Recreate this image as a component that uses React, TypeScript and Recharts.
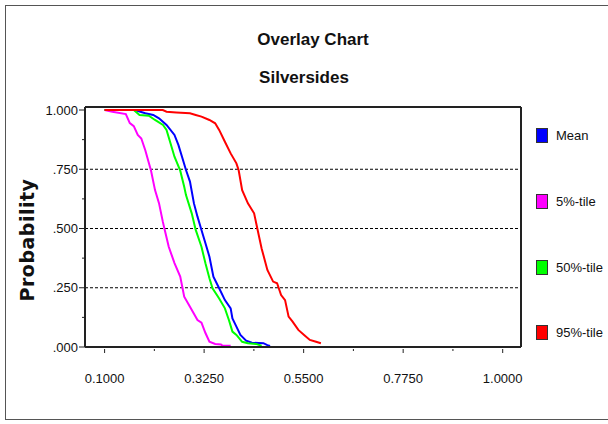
import React from "react";
import { LineChart, Line, XAxis, YAxis, ReferenceLine } from "recharts";

// values
const meanX = [0.1, 0.168, 0.192, 0.21, 0.223, 0.24, 0.258, 0.267, 0.275, 0.284, 0.293, 0.302, 0.31, 0.319, 0.328, 0.337, 0.346, 0.359, 0.372, 0.385, 0.389, 0.398, 0.407, 0.42, 0.433, 0.459, 0.468, 0.474];
const meanP = [1.0, 1.0, 0.986, 0.979, 0.965, 0.937, 0.895, 0.852, 0.803, 0.747, 0.698, 0.606, 0.55, 0.494, 0.438, 0.381, 0.297, 0.248, 0.198, 0.163, 0.121, 0.086, 0.051, 0.027, 0.018, 0.016, 0.008, 0.004];

const p5X = [0.1, 0.1176, 0.148, 0.157, 0.166, 0.175, 0.183, 0.192, 0.205, 0.214, 0.223, 0.2316, 0.236, 0.245, 0.258, 0.271, 0.28, 0.293, 0.31, 0.319, 0.328, 0.337, 0.35, 0.363, 0.367, 0.385];
const p5P = [1.0, 0.993, 0.983, 0.945, 0.932, 0.895, 0.88, 0.83, 0.744, 0.662, 0.607, 0.529, 0.494, 0.423, 0.354, 0.297, 0.212, 0.17, 0.114, 0.103, 0.059, 0.022, 0.013, 0.011, 0.005, 0.005];

const p50X = [0.1, 0.166, 0.179, 0.2, 0.214, 0.232, 0.24, 0.249, 0.258, 0.271, 0.28, 0.284, 0.297, 0.306, 0.319, 0.328, 0.337, 0.344, 0.359, 0.372, 0.381, 0.389, 0.398, 0.411, 0.424, 0.442, 0.455];
const p50P = [1.0, 1.0, 0.979, 0.976, 0.958, 0.937, 0.916, 0.86, 0.803, 0.744, 0.676, 0.641, 0.564, 0.494, 0.423, 0.353, 0.29, 0.248, 0.205, 0.163, 0.114, 0.065, 0.051, 0.022, 0.016, 0.013, 0.005];

const p95X = [0.1, 0.2316, 0.24, 0.262, 0.293, 0.306, 0.319, 0.337, 0.35, 0.359, 0.372, 0.385, 0.398, 0.403, 0.411, 0.424, 0.438, 0.446, 0.455, 0.468, 0.481, 0.49, 0.499, 0.508, 0.516, 0.525, 0.538, 0.551, 0.564, 0.578, 0.589];
const p95P = [1.0, 1.0, 0.993, 0.99, 0.986, 0.979, 0.972, 0.958, 0.944, 0.916, 0.866, 0.817, 0.775, 0.747, 0.662, 0.606, 0.564, 0.494, 0.416, 0.325, 0.276, 0.269, 0.219, 0.198, 0.128, 0.107, 0.072, 0.051, 0.03, 0.022, 0.016];

const xTicks = [0.1, 0.2125, 0.325, 0.4375, 0.55, 0.6625, 0.775, 0.8875, 1.0];
const xLabels = ["0.1000", "", "0.3250", "", "0.5500", "", "0.7750", "", "1.0000"];
const yTicks = [0, 0.125, 0.25, 0.375, 0.5, 0.625, 0.75, 0.875, 1.0];
const yLabels = [".000", "", ".250", "", ".500", "", ".750", "", "1.000"];
const gridValues = [0.25, 0.5, 0.75];

const seriesNames = ["Mean", "5%-tile", "50%-tile", "95%-tile"];
const seriesColors = ["#0000ff", "#ff00ff", "#00ff00", "#ff0000"];

const zip = (xs: number[], ps: number[]) => xs.map((x, i) => ({ x, p: ps[i] }));
const series = [zip(meanX, meanP), zip(p5X, p5P), zip(p50X, p50P), zip(p95X, p95P)];

const FONT = "'Liberation Sans', Arial, sans-serif";
const FRAME = "#222";
const Y_MAX = 1.0127;

const XTick = (props: any) => {
  const { x, y, index } = props;
  const major = xLabels[index] !== "";
  return (
    <g>
      <line x1={x} x2={x} y1={y + 2} y2={y + (major ? 6 : 4)} stroke={FRAME} strokeWidth={1} />
      {major && (
        <text x={x} y={y + 36} textAnchor="middle" fontSize={13} fontFamily={FONT} fill="#111">
          {xLabels[index]}
        </text>
      )}
    </g>
  );
};

const YTick = (props: any) => {
  const { x, y, index } = props;
  const major = yLabels[index] !== "";
  return (
    <g>
      <line x1={x - (major ? 6 : 3)} x2={x} y1={y} y2={y} stroke={FRAME} strokeWidth={1} />
      {major && (
        <text x={x - 7} y={y + 4.5} textAnchor="end" fontSize={13} fontFamily={FONT} fill="#111">
          {yLabels[index]}
        </text>
      )}
    </g>
  );
};

const RTick = (props: any) => {
  const { x, y } = props;
  return <line x1={x} x2={x + 3} y1={y} y2={y} stroke={FRAME} strokeWidth={1} />;
};

const legendTops = [135, 201.5, 267, 332];

export default function App() {
  return (
    <div style={{ position: "relative", width: 608, height: 424, background: "#fff", overflow: "hidden" }}>
      <style>{"body{margin:0}"}</style>
      <div style={{ position: "absolute", left: 5, top: 5, width: 620, height: 413, border: "1px solid #555" }} />
      <div style={{ position: "absolute", left: 213, width: 200, top: 30, textAlign: "center", fontFamily: FONT, fontWeight: "bold", fontSize: 17, color: "#111" }}>
        Overlay Chart
      </div>
      <div style={{ position: "absolute", left: 204, width: 200, top: 68, textAlign: "center", fontFamily: FONT, fontWeight: "bold", fontSize: 17, color: "#111" }}>
        Silversides
      </div>
      <div style={{ position: "absolute", left: 0, top: 0 }}>
        <LineChart width={608} height={424} margin={{ top: 107, right: 0, bottom: 0, left: 0 }}>
          <XAxis
            type="number"
            dataKey="x"
            domain={[0.0557, 1.0414]}
            allowDataOverflow
            ticks={xTicks}
            interval={0}
            height={77}
            tickSize={0}
            tickMargin={0}
            tickLine={false}
            tick={<XTick />}
            axisLine={{ stroke: FRAME, strokeWidth: 2 }}
          />
          <YAxis
            type="number"
            domain={[0, Y_MAX]}
            allowDataOverflow
            ticks={yTicks}
            interval={0}
            width={85}
            tickSize={0}
            tickMargin={0}
            tickLine={false}
            tick={<YTick />}
            axisLine={{ stroke: FRAME, strokeWidth: 2 }}
            label={{
              content: () => (
                <text
                  x={27}
                  y={240}
                  transform="rotate(-90 27 240)"
                  textAnchor="middle"
                  dominantBaseline="central"
                  fontFamily="'DejaVu Sans', Verdana, sans-serif"
                  fontWeight="bold"
                  fontSize={19}
                  letterSpacing={0.5}
                  fill="#111"
                >
                  Probability
                </text>
              ),
            }}
          />
          <YAxis
            yAxisId="right"
            orientation="right"
            type="number"
            domain={[0, Y_MAX]}
            ticks={yTicks}
            interval={0}
            width={87}
            tickSize={0}
            tickMargin={0}
            tickLine={false}
            tick={<RTick />}
            axisLine={{ stroke: FRAME, strokeWidth: 2 }}
          />
          {gridValues.map((v) => (
            <ReferenceLine key={v} y={v} stroke="#000" strokeWidth={1} strokeDasharray="3 2" />
          ))}
          <ReferenceLine y={Y_MAX} stroke={FRAME} strokeWidth={2} />
          {series.map((d, i) => (
            <Line
              key={seriesNames[i]}
              data={d}
              dataKey="p"
              name={seriesNames[i]}
              type="linear"
              stroke={seriesColors[i]}
              strokeWidth={2}
              dot={false}
              activeDot={false}
              isAnimationActive={false}
            />
          ))}
        </LineChart>
      </div>
      {seriesNames.map((n, i) => (
        <div key={n} style={{ position: "absolute", left: 536, top: legendTops[i] - 8, height: 16, display: "flex", alignItems: "center" }}>
          <div style={{ width: 12, height: 15, background: seriesColors[i], border: "1px solid #333", boxSizing: "border-box" }} />
          <span style={{ marginLeft: 8, fontFamily: FONT, fontSize: 13, color: "#111" }}>{n}</span>
        </div>
      ))}
    </div>
  );
}
